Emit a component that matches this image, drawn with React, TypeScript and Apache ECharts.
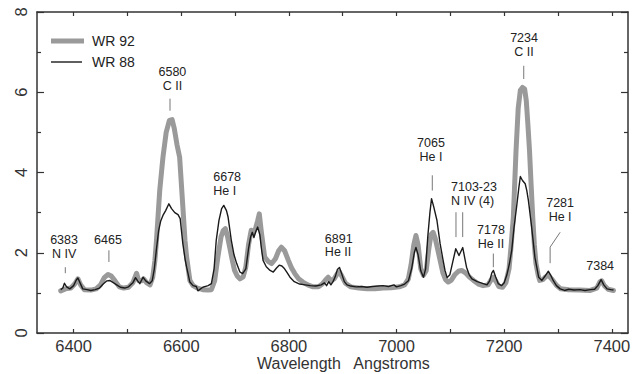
import React, { useEffect, useRef } from 'react';
import * as echarts from 'echarts';

// ---- Data ----
const wr92Wavelength = [
  6376, 6385, 6395, 6402, 6408, 6413, 6420, 6432, 6442, 6450, 6457, 6464, 6470, 6477, 6485, 6493,
  6502, 6510, 6517, 6521, 6526, 6530, 6536, 6542, 6547, 6551, 6554, 6560, 6566, 6572, 6578, 6583,
  6587, 6592, 6597, 6603, 6607, 6610, 6616, 6622, 6630, 6640, 6650, 6656, 6662, 6668, 6674, 6678,
  6682, 6686, 6690, 6695, 6699, 6704, 6709, 6715, 6720, 6725, 6730, 6734, 6738, 6742, 6745, 6749,
  6755, 6762, 6768, 6775, 6781, 6786, 6792, 6799, 6805, 6811, 6818, 6826, 6835, 6845, 6855, 6862,
  6868, 6873, 6878, 6884, 6890, 6894, 6899, 6905, 6915, 6930, 6945, 6960, 6975, 6990, 7005, 7015,
  7022, 7027, 7032, 7036, 7040, 7045, 7050, 7055, 7060, 7064, 7068, 7072, 7077, 7081, 7086, 7091,
  7096, 7102, 7108, 7115, 7121, 7128, 7135, 7143, 7152, 7161, 7170, 7176, 7180, 7185, 7190, 7197,
  7203, 7209, 7213, 7217, 7222, 7226, 7230, 7234, 7238, 7241, 7244, 7247, 7250, 7253, 7256, 7259,
  7263, 7266, 7272, 7277, 7282, 7288, 7297, 7305, 7320, 7340, 7360, 7372, 7378, 7381, 7386, 7393,
  7403,
];
const wr92Flux = [
  1.05, 1.10, 1.12, 1.22, 1.35, 1.20, 1.08, 1.07, 1.10, 1.20, 1.38, 1.46, 1.42, 1.30, 1.15, 1.12,
  1.14, 1.25, 1.49, 1.30, 1.30, 1.35, 1.25, 1.20, 1.39, 1.80, 2.31, 3.55, 4.38, 5.00, 5.30, 5.32,
  5.10, 4.70, 4.38, 3.14, 2.30, 1.89, 1.31, 1.18, 1.12, 1.08, 1.07, 1.08, 1.30, 1.89, 2.40, 2.55,
  2.60, 2.40, 2.14, 1.80, 1.56, 1.42, 1.35, 1.40, 1.65, 2.20, 2.56, 2.50, 2.60, 2.80, 2.97, 2.50,
  1.89, 1.78, 1.73, 1.85, 2.05, 2.14, 2.05, 1.81, 1.62, 1.48, 1.35, 1.27, 1.20, 1.15, 1.15, 1.22,
  1.32, 1.39, 1.30, 1.35, 1.48, 1.52, 1.40, 1.24, 1.15, 1.12, 1.10, 1.10, 1.12, 1.13, 1.15, 1.20,
  1.35, 1.70, 2.20, 2.43, 2.20, 1.60, 1.44, 1.55, 2.10, 2.45, 2.51, 2.35, 2.05, 1.81, 1.50, 1.33,
  1.27, 1.32, 1.45, 1.54, 1.56, 1.50, 1.40, 1.31, 1.22, 1.18, 1.20, 1.33, 1.39, 1.28, 1.16, 1.14,
  1.25, 1.60, 2.20, 2.89, 4.55, 5.60, 6.05, 6.12, 6.08, 5.79, 5.20, 4.55, 3.70, 2.89, 2.20, 1.73,
  1.45, 1.31, 1.33, 1.40, 1.44, 1.35, 1.19, 1.10, 1.08, 1.07, 1.06, 1.12, 1.28, 1.30, 1.18, 1.09,
  1.06,
];

const wr88Wavelength = [
  6376, 6380, 6383, 6387, 6393, 6400, 6405, 6408, 6412, 6417, 6425, 6432, 6440, 6448, 6455, 6462,
  6467, 6473, 6480, 6487, 6495, 6502, 6510, 6515, 6519, 6523, 6529, 6534, 6541, 6546, 6550, 6554,
  6558, 6562, 6566, 6571, 6577, 6582, 6588, 6594, 6598, 6603, 6607, 6610, 6616, 6622, 6628, 6631,
  6640, 6650, 6656, 6661, 6665, 6670, 6675, 6679, 6684, 6687, 6693, 6698, 6703, 6709, 6714, 6720,
  6725, 6729, 6732, 6735, 6739, 6742, 6746, 6749, 6752, 6758, 6765, 6771, 6777, 6782, 6787, 6792,
  6797, 6802, 6810, 6820, 6830, 6840, 6850, 6860, 6866, 6870, 6874, 6878, 6882, 6886, 6890, 6894,
  6898, 6903, 6908, 6915, 6925, 6935, 6945, 6955, 6965, 6975, 6985, 6995, 7000, 7008, 7015, 7022,
  7028, 7033, 7036, 7040, 7045, 7050, 7054, 7058, 7062, 7065, 7069, 7075, 7081, 7086, 7090, 7094,
  7099, 7104, 7110, 7116, 7123, 7127, 7130, 7135, 7140, 7150, 7161, 7168, 7173, 7177, 7180, 7184,
  7189, 7195, 7200, 7205, 7210, 7214, 7218, 7223, 7227, 7230, 7234, 7239, 7242, 7245, 7251, 7257,
  7264, 7270, 7276, 7282, 7286, 7291, 7297, 7304, 7312, 7320, 7330, 7341, 7350, 7360, 7368, 7374,
  7380, 7385, 7391, 7398, 7403,
];
const wr88Flux = [
  1.08, 1.12, 1.24, 1.15, 1.10, 1.18, 1.32, 1.37, 1.25, 1.10, 1.08, 1.06, 1.08, 1.12, 1.22, 1.30,
  1.31, 1.26, 1.20, 1.14, 1.12, 1.15, 1.25, 1.38, 1.30, 1.23, 1.39, 1.30, 1.23, 1.30, 1.60, 2.10,
  2.55, 2.80, 2.93, 3.05, 3.22, 3.10, 3.00, 2.95, 2.85, 2.22, 1.85, 1.64, 1.27, 1.18, 1.16, 1.05,
  1.14, 1.18, 1.23, 1.60, 2.31, 2.80, 3.10, 3.18, 3.05, 2.89, 2.31, 1.95, 1.73, 1.52, 1.48, 1.60,
  2.10, 2.40, 2.51, 2.38, 2.55, 2.64, 2.45, 2.10, 1.81, 1.65, 1.56, 1.52, 1.62, 1.69, 1.67, 1.60,
  1.50, 1.39, 1.28, 1.22, 1.20, 1.18, 1.17, 1.20, 1.25, 1.18, 1.28, 1.20, 1.28, 1.40, 1.58, 1.63,
  1.48, 1.28, 1.20, 1.17, 1.15, 1.16, 1.14, 1.16, 1.17, 1.18, 1.16, 1.20, 1.15, 1.18, 1.22, 1.30,
  1.60, 2.00, 2.13, 1.95, 1.55, 1.39, 1.60, 2.40, 3.00, 3.35, 3.15, 2.81, 2.22, 1.85, 1.56, 1.38,
  1.45, 1.75, 2.10, 1.93, 2.13, 1.85, 1.64, 1.45, 1.35, 1.28, 1.23, 1.20, 1.30, 1.50, 1.56, 1.40,
  1.23, 1.18, 1.25, 1.45, 1.75, 2.06, 2.60, 3.14, 3.60, 3.90, 3.80, 3.72, 3.55, 3.30, 2.64, 1.89,
  1.39, 1.31, 1.42, 1.54, 1.45, 1.31, 1.18, 1.10, 1.06, 1.09, 1.07, 1.08, 1.06, 1.08, 1.09, 1.18,
  1.33, 1.20, 1.10, 1.08, 1.07,
];

const seriesNames = ['WR 92', 'WR 88'];
const xTickValues = [6400, 6500, 6600, 6700, 6800, 6900, 7000, 7100, 7200, 7300, 7400];
const xLabelValues = [6400, 6600, 6800, 7000, 7200, 7400];
const xAxisTitle = 'Wavelength   Angstroms';

// line annotations: text, anchor [wavelength, flux] of first text line, alignment, marker segments
const annotationLayout = [
  { text: '6383\nN IV', at: [6382.3, 2.31], align: 'center', marks: [[[6384.6, 1.64], [6384.6, 1.49]]] },
  { text: '6465', at: [6463.8, 2.31], align: 'center', marks: [[[6465.6, 2.06], [6465.6, 1.77]]] },
  { text: '6580\nC II', at: [6583.6, 6.5], align: 'center', marks: [[[6579.1, 5.84], [6579.1, 5.54]]] },
  { text: '6678\nHe I', at: [6659.4, 3.88], align: 'left', marks: [] },
  { text: '6891\nHe II', at: [6866.8, 2.35], align: 'left', marks: [] },
  { text: '7065\nHe I', at: [7064, 4.73], align: 'center', marks: [[[7066.4, 3.93], [7066.4, 3.55]]] },
  {
    text: '7103-23\nN IV (4)', at: [7101.2, 3.63], align: 'left',
    marks: [[[7110.4, 3.01], [7110.4, 2.39]], [[7122.9, 3.01], [7122.9, 2.39]]],
  },
  { text: '7178\nHe II', at: [7175.5, 2.56], align: 'center', marks: [[[7179.8, 1.98], [7179.8, 1.64]]] },
  { text: '7234\nC II', at: [7236.9, 7.35], align: 'center', marks: [[[7236.3, 6.66], [7236.3, 6.33]]] },
  { text: '7281\nHe I', at: [7303.9, 3.24], align: 'center', marks: [[[7303.9, 2.51], [7285.3, 2.14], [7285.3, 1.74]]] },
  { text: '7384', at: [7378.3, 1.66], align: 'center', marks: [] },
];

const FONT = '"Liberation Sans", Arial, Helvetica, sans-serif';
const AXIS_COLOR = '#333';
const GRAY = '#9a9a9a';
const BLACK = '#1a1a1a';

export default function App() {
  const ref = useRef<HTMLDivElement>(null);

  useEffect(() => {
    if (!ref.current) return;
    const chart = echarts.init(ref.current, undefined, { renderer: 'svg' });

    const axisLine = { show: true, onZero: false, lineStyle: { color: AXIS_COLOR, width: 1.5 } };
    const plain = (v: number) => String(v);

    chart.setOption({
      animation: false,
      backgroundColor: '#fff',
      grid: { left: 37, right: 16, top: 12, bottom: 41, containLabel: false },
      xAxis: [
        {
          type: 'value', min: 6332, max: 7430, position: 'bottom',
          axisLine,
          splitLine: { show: false },
          axisTick: { show: true, inside: true, length: 4, customValues: xTickValues, lineStyle: { color: AXIS_COLOR, width: 1.2 } },
          axisLabel: { show: true, customValues: xLabelValues, formatter: plain, margin: 4, fontSize: 16.5, color: '#333', fontFamily: FONT },
        },
        {
          type: 'value', min: 6332, max: 7430, position: 'top',
          axisLine,
          splitLine: { show: false },
          axisTick: { show: true, inside: true, length: 4, customValues: xTickValues, lineStyle: { color: AXIS_COLOR, width: 1.2 } },
          axisLabel: { show: false },
        },
      ],
      yAxis: [
        {
          type: 'value', min: 0, max: 8, interval: 2, position: 'left',
          axisLine,
          splitLine: { show: false },
          axisTick: { show: true, inside: true, length: 7, lineStyle: { color: AXIS_COLOR, width: 1.2 } },
          minorTick: { show: true, splitNumber: 2, length: 4, lineStyle: { color: AXIS_COLOR, width: 1.2 } },
          axisLabel: { show: true, rotate: 90, margin: 8, formatter: plain, fontSize: 16.5, color: '#333', fontFamily: FONT },
        },
        {
          type: 'value', min: 0, max: 8, interval: 2, position: 'right',
          axisLine,
          splitLine: { show: false },
          axisTick: { show: true, inside: true, length: 7, lineStyle: { color: AXIS_COLOR, width: 1.2 } },
          minorTick: { show: true, splitNumber: 2, length: 4, lineStyle: { color: AXIS_COLOR, width: 1.2 } },
          axisLabel: { show: false },
        },
      ],
      series: [
        {
          name: seriesNames[0], type: 'line', xAxisIndex: 0, yAxisIndex: 0,
          data: wr92Wavelength.map((w, i) => [w, wr92Flux[i]]),
          showSymbol: false, symbol: 'none',
          lineStyle: { color: GRAY, width: 5, cap: 'round', join: 'round' },
          z: 2,
        },
        {
          name: seriesNames[1], type: 'line', xAxisIndex: 0, yAxisIndex: 0,
          data: wr88Wavelength.map((w, i) => [w, wr88Flux[i]]),
          showSymbol: false, symbol: 'none',
          lineStyle: { color: BLACK, width: 1.4, join: 'round' },
          z: 3,
        },
      ],
    });

    const px = (p: number[]) => chart.convertToPixel({ seriesIndex: 0 }, p) as number[];
    const graphics: any[] = [];

    // legend
    graphics.push(
      { type: 'line', shape: { x1: 51, y1: 41, x2: 84, y2: 41 }, style: { stroke: GRAY, lineWidth: 5 }, z: 10 },
      { type: 'text', x: 92, y: 41, style: { text: seriesNames[0], fontSize: 14, fontFamily: FONT, fill: '#222', textVerticalAlign: 'middle' }, z: 10 },
      { type: 'line', shape: { x1: 51, y1: 62, x2: 82, y2: 62 }, style: { stroke: BLACK, lineWidth: 1.4 }, z: 10 },
      { type: 'text', x: 92, y: 62, style: { text: seriesNames[1], fontSize: 14, fontFamily: FONT, fill: '#222', textVerticalAlign: 'middle' }, z: 10 },
    );

    // x axis title
    graphics.push({
      type: 'text', x: 257, y: 363,
      style: { text: xAxisTitle, fontSize: 16, fontFamily: FONT, fill: '#333', textAlign: 'left', textVerticalAlign: 'middle' },
      z: 10,
    });

    const lineH = 13.7;
    annotationLayout.forEach((a) => {
      const p = px(a.at);
      graphics.push({
        type: 'text', x: p[0], y: p[1] - lineH / 2,
        style: {
          text: a.text, fontSize: 12.5, fontFamily: FONT, fill: '#222', lineHeight: lineH,
          textAlign: a.align, textVerticalAlign: 'top', align: a.align, verticalAlign: 'top',
        },
        z: 10,
      });
      a.marks.forEach((m) => {
        graphics.push({
          type: 'polyline',
          shape: { points: m.map((q) => px(q)) },
          style: { stroke: '#777', lineWidth: 1, fill: 'none' },
          z: 10,
        });
      });
    });

    chart.setOption({ graphic: graphics });

    return () => chart.dispose();
  }, []);

  return (
    <div
      ref={ref}
      style={{ position: 'fixed', left: 0, top: 0, width: 644, height: 374, background: '#fff' }}
    />
  );
}
